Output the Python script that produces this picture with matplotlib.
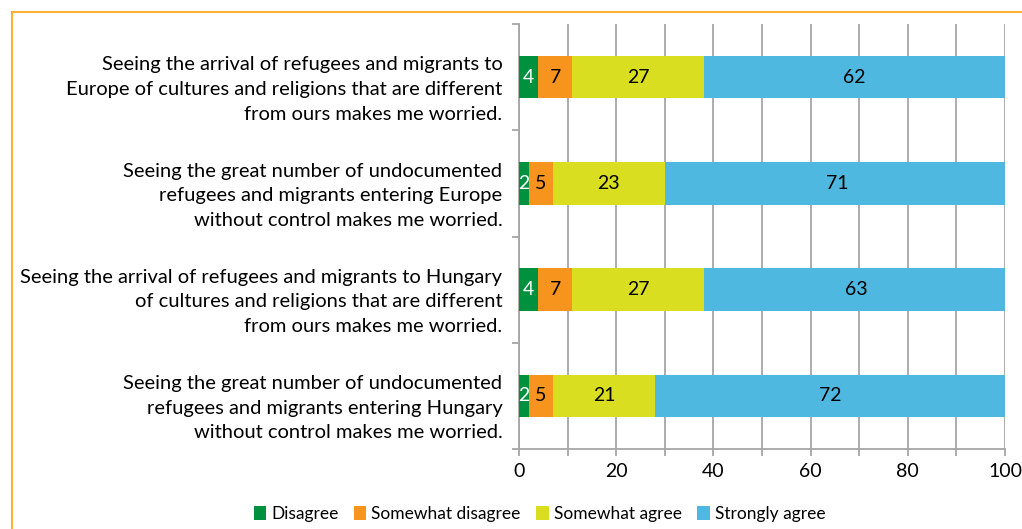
import matplotlib.pyplot as plt
import matplotlib.patches as patches
import matplotlib.transforms as mtransforms
import numpy as np

categories = [
    "Seeing the arrival of refugees and migrants to\nEurope of cultures and religions that are different\nfrom ours makes me worried.",
    "Seeing the great number of undocumented\nrefugees and migrants entering Europe\nwithout control makes me worried.",
    "Seeing the arrival of refugees and migrants to Hungary\nof cultures and religions that are different\nfrom ours makes me worried.",
    "Seeing the great number of undocumented\nrefugees and migrants entering Hungary\nwithout control makes me worried.",
]
series_names = ["Disagree", "Somewhat disagree", "Somewhat agree", "Strongly agree"]
disagree = [4, 2, 4, 2]
somewhat_disagree = [7, 5, 7, 5]
somewhat_agree = [27, 23, 27, 21]
strongly_agree = [62, 71, 63, 72]

colors = ["#00913f", "#f7941d", "#d9df20", "#4fb8e0"]
label_colors = ["white", "black", "black", "black"]

plt.rcParams['font.family'] = ['Lato', 'DejaVu Sans']

fig = plt.figure(figsize=(10.22, 5.29), dpi=100)
ax = fig.add_axes([519 / 1022, 1 - 449 / 529, 486 / 1022, 425 / 529])

# orange frame (left and top edges visible)
fig.patches.append(patches.Rectangle((12 / 1022, -0.1), 1.2, 1 - 12 / 529 + 0.1,
                                     transform=fig.transFigure, fill=False,
                                     edgecolor="#f9b233", linewidth=1.5))

y = np.arange(len(categories))
left = np.zeros(len(categories))
all_series = [disagree, somewhat_disagree, somewhat_agree, strongly_agree]
for vals, name, col, lc in zip(all_series, series_names, colors, label_colors):
    vals = np.array(vals, dtype=float)
    bars = ax.barh(y, vals, left=left, height=0.4, color=col, label=name, zorder=3)
    for b, v in zip(bars, vals):
        ax.text(b.get_x() + b.get_width() / 2, b.get_y() + b.get_height() / 2,
                f"{int(v)}", ha='center', va='center', color=lc, fontsize=14, zorder=4)
    left += vals

ax.set_xlim(0, 100)
ax.set_ylim(len(categories) - 0.5, -0.5)
ax.set_xticks(np.arange(0, 101, 10), minor=False)
ax.set_xticklabels([str(v) if v % 20 == 0 else "" for v in range(0, 101, 10)], fontsize=14)
ax.xaxis.grid(True, color="#a6a6a6", linewidth=1.3, zorder=0)
ax.set_axisbelow(True)

ax.set_yticks(y)
ax.set_yticklabels(categories, fontsize=14.5, linespacing=1.55)
ax.set_yticks(np.arange(-0.5, len(categories), 1), minor=True)
ax.tick_params(axis='y', which='major', length=0, pad=12)
ax.tick_params(axis='y', which='minor', length=5, color="#a6a6a6", width=1.3)
ax.tick_params(axis='x', length=5, color="#a6a6a6", width=1.3, pad=5)

# category labels sit a little below the bar centre, as in the original
shift = mtransforms.ScaledTranslation(0, -7 / 100, fig.dpi_scale_trans)
for lab in ax.get_yticklabels():
    lab.set_transform(lab.get_transform() + shift)

for s in ['top', 'right']:
    ax.spines[s].set_visible(False)
for s in ['left', 'bottom']:
    ax.spines[s].set_color("#a6a6a6")
    ax.spines[s].set_linewidth(1.3)

fig.legend(loc='center', bbox_to_anchor=(0.528, 1 - 514 / 529), ncol=4, frameon=False,
           fontsize=12.5, handlelength=0.7, handleheight=0.9, handletextpad=0.3,
           columnspacing=0.9)

fig.savefig("out.png", dpi=100)
